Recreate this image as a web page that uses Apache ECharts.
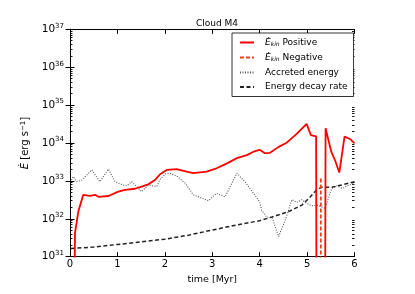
<!DOCTYPE html>
<html><head><meta charset="utf-8">
<script src="https://cdn.jsdelivr.net/npm/echarts@6/dist/echarts.min.js"></script>
<style>html,body{margin:0;padding:0;background:#fff}#c{width:415px;height:294px}</style>
</head><body><div id="c"></div>
<script>
// ---- data ----
const title = 'Cloud M4';
const xTicks = [0, 1, 2, 3, 4, 5, 6];
const yDecades = [31, 32, 33, 34, 35, 36, 37];

const tPos = [0.09, 0.105, 0.175, 0.28, 0.42, 0.53, 0.60, 0.81, 1.02, 1.16, 1.37, 1.51, 1.65, 1.79, 1.90, 2.04, 2.25, 2.46, 2.60, 2.88, 3.09, 3.31, 3.52, 3.73, 3.87, 4.00, 4.11, 4.22, 4.40, 4.57, 4.78, 4.99, 5.08, 5.19, 5.20, 5.38, 5.39, 5.51, 5.59, 5.68, 5.79, 5.91, 6.00];
const ePos = [1e29, 4.2e31, 1.55e32, 4.3e32, 4.0e32, 4.3e32, 3.8e32, 4.0e32, 5.2e32, 5.8e32, 6.2e32, 7.1e32, 8.1e32, 1.05e33, 1.5e33, 1.95e33, 2.05e33, 1.75e33, 1.6e33, 1.75e33, 2.15e33, 2.9e33, 4.0e33, 4.8e33, 5.9e33, 6.6e33, 5.4e33, 5.5e33, 7.9e33, 1.02e34, 1.74e34, 3.2e34, 1.62e34, 1.5e34, 1e29, 1e29, 2.45e34, 5.9e33, 3.5e33, 1.66e33, 1.48e34, 1.26e34, 9.8e33];

const tNeg = [5.29, 5.29];
const eNeg = [1e29, 1.3e33];

const tAcc = [0.03, 0.07, 0.14, 0.25, 0.46, 0.63, 0.81, 0.95, 1.12, 1.20, 1.30, 1.41, 1.51, 1.65, 1.83, 1.90, 2.02, 2.10, 2.25, 2.43, 2.60, 2.92, 3.09, 3.27, 3.52, 3.69, 3.87, 4.00, 4.04, 4.15, 4.26, 4.40, 4.54, 4.68, 4.78, 4.89, 4.99, 5.10, 5.21, 5.38, 5.52, 5.63, 5.75, 5.84, 6.00];
const eAcc = [1.05e33, 1.3e33, 9.5e32, 1.05e33, 1.95e33, 9.5e32, 2.05e33, 9.5e32, 7.8e32, 7.4e32, 9.5e32, 7.1e32, 5.2e32, 7.8e32, 7.1e32, 1.1e33, 1.55e33, 1.6e33, 1.35e33, 8.7e32, 4.3e32, 3.0e32, 4.7e32, 3.8e32, 1.6e33, 9.5e32, 4.7e32, 2.8e32, 1.7e32, 1.1e32, 1.1e32, 3.4e31, 9.3e31, 3.2e32, 2.7e32, 3.2e32, 2.6e32, 2.2e32, 2.3e32, 1.9e32, 6.3e32, 7.4e32, 6.3e32, 7.4e32, 8.7e32];

const tDec = [0.02, 0.5, 1.0, 1.5, 2.0, 2.5, 2.95, 3.5, 4.0, 4.26, 4.61, 4.89, 5.06, 5.20, 5.31, 5.52, 5.73, 6.00];
const eDec = [1.65e31, 1.8e31, 2.1e31, 2.45e31, 2.9e31, 3.7e31, 4.9e31, 6.8e31, 8.9e31, 1.12e32, 1.55e32, 2.3e32, 3.7e32, 5.8e32, 6.8e32, 6.8e32, 7.8e32, 9.5e32];

const seriesNames = ['pos', 'neg', 'acc', 'dec'];
const legendLabels = {
  pos: '{e|Ė}{sub|kin} Positive',
  neg: '{e|Ė}{sub|kin} Negative',
  acc: 'Accreted energy',
  dec: 'Energy decay rate'
};

// ---- build ----
const zip = (a, b) => a.map((v, i) => [v, b[i]]);
const majorVals = yDecades.map(d => Math.pow(10, d));
const minorVals = [];
for (let d = yDecades[0]; d < yDecades[yDecades.length - 1]; d++)
  for (let m = 2; m <= 9; m++) minorVals.push(m * Math.pow(10, d));

const FONT = 'DejaVu Sans';
const chart = echarts.init(document.getElementById('c'), null, {renderer: 'canvas'});

const axisCommon = {
  axisLine: {lineStyle: {color: '#000', width: 1}},
  axisTick: {inside: true, length: 4.5, lineStyle: {color: '#000', width: 1}},
  splitLine: {show: false}
};
const logBase = {type: 'log', logBase: 10, min: 1e31, max: 1e37, interval: 1};
const minorAxis = pos => Object.assign({}, logBase, {
  position: pos, axisLine: {show: false}, splitLine: {show: false},
  axisLabel: {show: false},
  axisTick: {show: true, inside: true, length: 2.5, customValues: minorVals, lineStyle: {color: '#000', width: 0.9}}
});

chart.setOption({
  animation: false,
  backgroundColor: '#fff',
  textStyle: {fontFamily: FONT},
  title: {
    text: title, left: 212, top: 14, textAlign: 'center',
    textStyle: {fontFamily: FONT, fontSize: 9, fontWeight: 'normal', color: '#000'}
  },
  grid: {left: 70, right: 60.5, top: 29.3, bottom: 37.3, containLabel: false},
  legend: {
    data: seriesNames, orient: 'vertical', left: 232, top: 33, width: 121,
    padding: [5, 6, 5, 7], itemGap: 5.5, itemWidth: 14, itemHeight: 10,
    borderColor: '#000', borderWidth: 0.8, backgroundColor: '#fff', borderRadius: 0,
    itemStyle: {opacity: 0},
    formatter: n => legendLabels[n],
    textStyle: {
      fontFamily: FONT, fontSize: 9, color: '#000', padding: [0, 0, 0, 6],
      rich: {
        e: {fontFamily: FONT, fontStyle: 'italic', fontSize: 9},
        sub: {fontFamily: FONT, fontStyle: 'italic', fontSize: 6, padding: [4, 0, 0, 0]}
      }
    }
  },
  xAxis: [
    Object.assign({}, axisCommon, {
      type: 'value', min: 0, max: 6, interval: 1, position: 'bottom',
      name: 'time [Myr]', nameLocation: 'middle', nameGap: 13,
      nameTextStyle: {fontFamily: FONT, fontSize: 9.5, color: '#000'},
      axisLabel: {fontFamily: FONT, fontSize: 10, color: '#000', margin: 3}
    }),
    Object.assign({}, axisCommon, {
      type: 'value', min: 0, max: 6, interval: 1, position: 'top',
      axisLabel: {show: false}
    })
  ],
  yAxis: [
    Object.assign({}, axisCommon, logBase, {
      position: 'left',
      name: '{e|Ė} [erg s{sup|−1}]', nameLocation: 'middle', nameGap: 31, nameRotate: 90,
      nameTextStyle: {
        fontFamily: FONT, fontSize: 10, color: '#000',
        rich: {
          e: {fontFamily: FONT, fontStyle: 'italic', fontSize: 10},
          sup: {fontFamily: FONT, fontSize: 7, padding: [0, 0, 5, 0]}
        }
      },
      axisTick: {inside: true, length: 4.5, customValues: majorVals, lineStyle: {color: '#000', width: 1}},
      axisLabel: {
        margin: 6, color: '#000',
        formatter: v => '{b|10}{s|' + Math.round(Math.log10(v)) + '}',
        rich: {
          b: {fontFamily: FONT, fontSize: 10.5, color: '#000'},
          s: {fontFamily: FONT, fontSize: 7, color: '#000', padding: [0, 0, 7, 0]}
        }
      }
    }),
    Object.assign({}, axisCommon, logBase, {
      position: 'right',
      axisTick: {inside: true, length: 4.5, customValues: majorVals, lineStyle: {color: '#000', width: 1}},
      axisLabel: {show: false}
    }),
    minorAxis('left'),
    minorAxis('right')
  ],
  series: [
    {
      name: 'pos', type: 'line', data: zip(tPos, ePos), showSymbol: false, symbol: 'none',
      lineStyle: {color: '#ff0000', width: 1.8}, itemStyle: {color: '#ff0000'}, clip: true, z: 5
    },
    {
      name: 'neg', type: 'line', data: zip(tNeg, eNeg), showSymbol: false, symbol: 'none',
      lineStyle: {color: '#f0401c', width: 1.8, type: [4, 2]}, itemStyle: {color: '#f0401c'}, clip: true, z: 4
    },
    {
      name: 'acc', type: 'line', data: zip(tAcc, eAcc), showSymbol: false, symbol: 'none',
      lineStyle: {color: '#555', width: 1.1, type: [1, 1.5]}, itemStyle: {color: '#555'}, clip: true, z: 3
    },
    {
      name: 'dec', type: 'line', data: zip(tDec, eDec), showSymbol: false, symbol: 'none',
      lineStyle: {color: '#222', width: 1.5, type: [4, 2.5]}, itemStyle: {color: '#222'}, clip: true, z: 3
    }
  ]
});
</script></body></html>
